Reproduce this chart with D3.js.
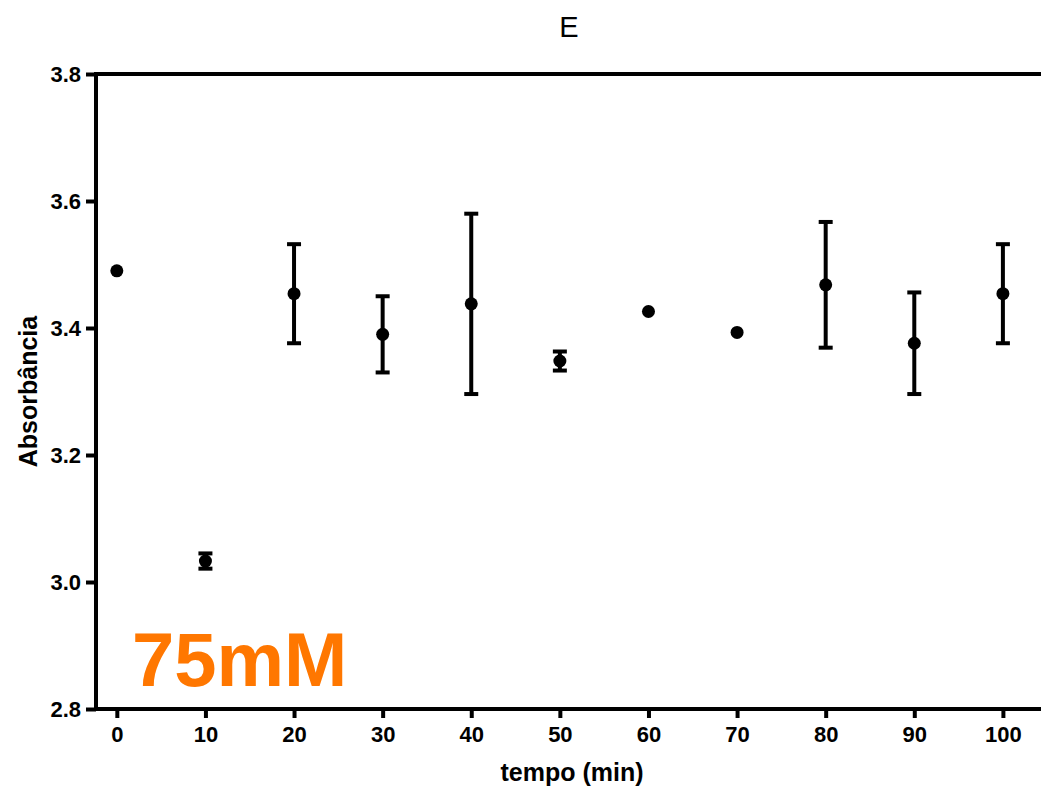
<!DOCTYPE html>
<html>
<head>
<meta charset="utf-8">
<script src="https://cdn.jsdelivr.net/npm/d3@7"></script>
<style>
  body { margin: 0; background: #fff; }
  svg { display: block; font-family: "Liberation Sans", Arial, sans-serif; }
</style>
</head>
<body>
<div id="chart"></div>
<script>
let w = 1041;
let h = 791;

// data
let tempo = [0, 10, 20, 30, 40, 50, 60, 70, 80, 90, 100];
let absorb = [3.490, 3.033, 3.454, 3.390, 3.438, 3.348, 3.426, 3.393, 3.468, 3.376, 3.454];
let erro = [0, 0.012, 0.078, 0.060, 0.142, 0.015, 0, 0, 0.099, 0.080, 0.078];
let xTicks = [0, 10, 20, 30, 40, 50, 60, 70, 80, 90, 100];
let yTicks = [2.8, 3.0, 3.2, 3.4, 3.6, 3.8];

let pLeft = 96, pRight = 1041, pTop = 74, pBottom = 709;

let x = d3.scaleLinear()
    .domain([-2.35, 104.3])
    .range([pLeft, pRight]);

let y = d3.scaleLinear()
    .domain([2.8, 3.8])
    .range([pBottom, pTop]);

let svg = d3.select("#chart")
    .append("svg")
    .attr("width", w)
    .attr("height", h);

// axes
let xAxis = d3.axisBottom(x)
    .tickValues(xTicks)
    .tickSize(9)
    .tickPadding(8)
    .tickFormat(d3.format("d"));

let yAxis = d3.axisLeft(y)
    .tickValues(yTicks)
    .tickSize(10)
    .tickPadding(5)
    .tickFormat(d3.format(".1f"));

let gx = svg.append("g")
    .attr("transform", "translate(0," + pBottom + ")")
    .call(xAxis);

let gy = svg.append("g")
    .attr("transform", "translate(" + pLeft + ",0)")
    .call(yAxis);

[gx, gy].forEach(g => {
    g.select(".domain").remove();
    g.selectAll(".tick line")
        .attr("stroke", "#000")
        .attr("stroke-width", 4);
    g.selectAll(".tick text")
        .attr("fill", "#000")
        .attr("font-size", 22)
        .attr("font-weight", "bold")
        .attr("font-family", "Liberation Sans, Arial, sans-serif");
});

// frame: left, bottom and top lines
svg.append("line")
    .attr("x1", pLeft).attr("x2", pLeft)
    .attr("y1", pTop - 2).attr("y2", pBottom + 2)
    .attr("stroke", "#000").attr("stroke-width", 4);
svg.append("line")
    .attr("x1", pLeft - 2).attr("x2", pRight)
    .attr("y1", pBottom).attr("y2", pBottom)
    .attr("stroke", "#000").attr("stroke-width", 4);
svg.append("line")
    .attr("x1", pLeft - 2).attr("x2", pRight)
    .attr("y1", pTop).attr("y2", pTop)
    .attr("stroke", "#000").attr("stroke-width", 4);

let pts = tempo.map((t, i) => ({ t: t, v: absorb[i], e: erro[i] }));
let withErr = pts.filter(d => d.e > 0);

// error bars
svg.selectAll(".ebar")
    .data(withErr)
    .enter()
    .append("line")
    .attr("class", "ebar")
    .attr("x1", d => x(d.t)).attr("x2", d => x(d.t))
    .attr("y1", d => y(d.v + d.e)).attr("y2", d => y(d.v - d.e))
    .attr("stroke", "#000").attr("stroke-width", 4);

svg.selectAll(".capTop")
    .data(withErr)
    .enter()
    .append("line")
    .attr("class", "capTop")
    .attr("x1", d => x(d.t) - 7).attr("x2", d => x(d.t) + 7)
    .attr("y1", d => y(d.v + d.e)).attr("y2", d => y(d.v + d.e))
    .attr("stroke", "#000").attr("stroke-width", 4);

svg.selectAll(".capBot")
    .data(withErr)
    .enter()
    .append("line")
    .attr("class", "capBot")
    .attr("x1", d => x(d.t) - 7).attr("x2", d => x(d.t) + 7)
    .attr("y1", d => y(d.v - d.e)).attr("y2", d => y(d.v - d.e))
    .attr("stroke", "#000").attr("stroke-width", 4);

// points
svg.selectAll(".pt")
    .data(pts)
    .enter()
    .append("circle")
    .attr("class", "pt")
    .attr("cx", d => x(d.t))
    .attr("cy", d => y(d.v))
    .attr("r", 6.5)
    .attr("fill", "#000");

// titles
svg.append("text")
    .attr("x", 569).attr("y", 37)
    .attr("text-anchor", "middle")
    .attr("font-size", 29)
    .text("E");

svg.append("text")
    .attr("x", 572).attr("y", 781)
    .attr("text-anchor", "middle")
    .attr("font-size", 25)
    .attr("font-weight", "bold")
    .text("tempo (min)");

svg.append("text")
    .attr("transform", "translate(37," + ((pTop + pBottom) / 2) + ") rotate(-90)")
    .attr("text-anchor", "middle")
    .attr("font-size", 25)
    .attr("font-weight", "bold")
    .text("Absorbância");

svg.append("text")
    .attr("x", 132).attr("y", 686)
    .attr("font-size", 76)
    .attr("font-weight", "bold")
    .attr("fill", "#ff7700")
    .text("75mM");
</script>
</body>
</html>
